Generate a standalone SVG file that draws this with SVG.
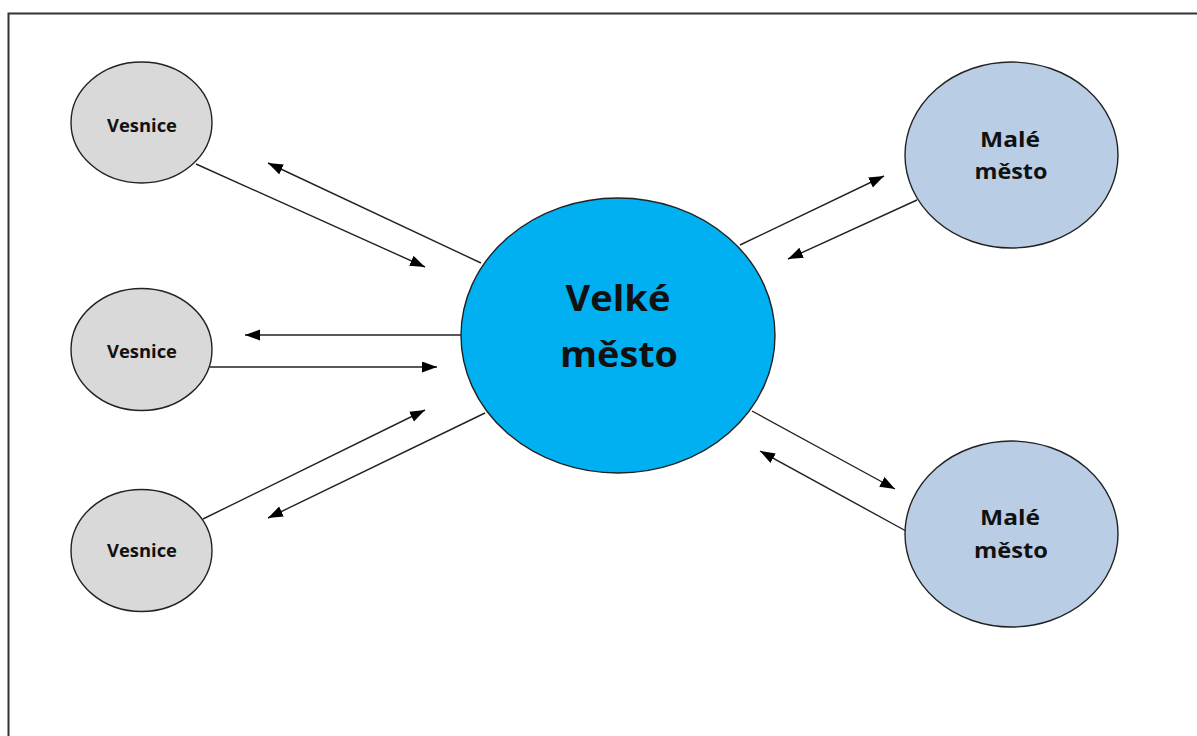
<svg xmlns="http://www.w3.org/2000/svg" width="1197" height="736" viewBox="0 0 1197 736">
<defs>
<style>
.node{stroke:#222;stroke-width:1.4}
.vill{fill:#D9D9D9}
.small{fill:#B9CDE5}
.big{fill:#00B0F0}
.lbl{font-family:"Open Sans","Liberation Sans",sans-serif;font-weight:bold;fill:#111;text-anchor:middle}
.conn line{stroke:#222;stroke-width:1.4;marker-end:url(#ah)}
</style>
<marker id="ah" markerUnits="userSpaceOnUse" markerWidth="16" markerHeight="12" refX="15" refY="5.5" orient="auto">
<path d="M0,0 L15,5.5 L0,11 z" fill="#000"/>
</marker>
</defs>
<rect x="0" y="0" width="1197" height="736" fill="#fff"/>
<path d="M8.5,740 L8.5,13.5 L1200,13.5" fill="none" stroke="#333" stroke-width="2"/>
<g class="conn" id="connectors">
<line x1="196" y1="164" x2="425" y2="267"/>
<line x1="481" y1="263" x2="268" y2="163"/>
<line x1="461" y1="335" x2="245" y2="335"/>
<line x1="210" y1="367" x2="437" y2="367"/>
<line x1="203" y1="519" x2="425" y2="410"/>
<line x1="485" y1="413" x2="268" y2="518"/>
<line x1="740" y1="245" x2="884" y2="176"/>
<line x1="917" y1="200" x2="788" y2="259"/>
<line x1="752" y1="411" x2="895" y2="489"/>
<line x1="906" y1="531" x2="760" y2="451"/>
</g>
<g id="velke-mesto">
<ellipse class="node big" cx="618" cy="335.5" rx="157" ry="137.5"/>
<text class="lbl" x="618" y="311" font-size="35" textLength="105" lengthAdjust="spacingAndGlyphs">Velké</text>
<text class="lbl" x="619" y="367" font-size="35" textLength="118" lengthAdjust="spacingAndGlyphs">město</text>
</g>
<g id="vesnice-1">
<ellipse class="node vill" cx="141.5" cy="122.5" rx="70.5" ry="60.5"/>
<text class="lbl" x="142" y="132" font-size="17" textLength="70" lengthAdjust="spacingAndGlyphs">Vesnice</text>
</g>
<g id="vesnice-2">
<ellipse class="node vill" cx="141.5" cy="349.5" rx="70.5" ry="61"/>
<text class="lbl" x="142" y="358" font-size="17" textLength="70" lengthAdjust="spacingAndGlyphs">Vesnice</text>
</g>
<g id="vesnice-3">
<ellipse class="node vill" cx="141.5" cy="550.5" rx="70.5" ry="61"/>
<text class="lbl" x="142" y="557" font-size="17" textLength="70" lengthAdjust="spacingAndGlyphs">Vesnice</text>
</g>
<g id="male-mesto-1">
<ellipse class="node small" cx="1011.5" cy="155" rx="106.5" ry="93"/>
<text class="lbl" x="1010" y="147" font-size="21" textLength="60" lengthAdjust="spacingAndGlyphs">Malé</text>
<text class="lbl" x="1011" y="179" font-size="21" textLength="73" lengthAdjust="spacingAndGlyphs">město</text>
</g>
<g id="male-mesto-2">
<ellipse class="node small" cx="1011.5" cy="534" rx="106.5" ry="93"/>
<text class="lbl" x="1010" y="525" font-size="21" textLength="60" lengthAdjust="spacingAndGlyphs">Malé</text>
<text class="lbl" x="1011" y="558" font-size="21" textLength="74" lengthAdjust="spacingAndGlyphs">město</text>
</g>
</svg>
